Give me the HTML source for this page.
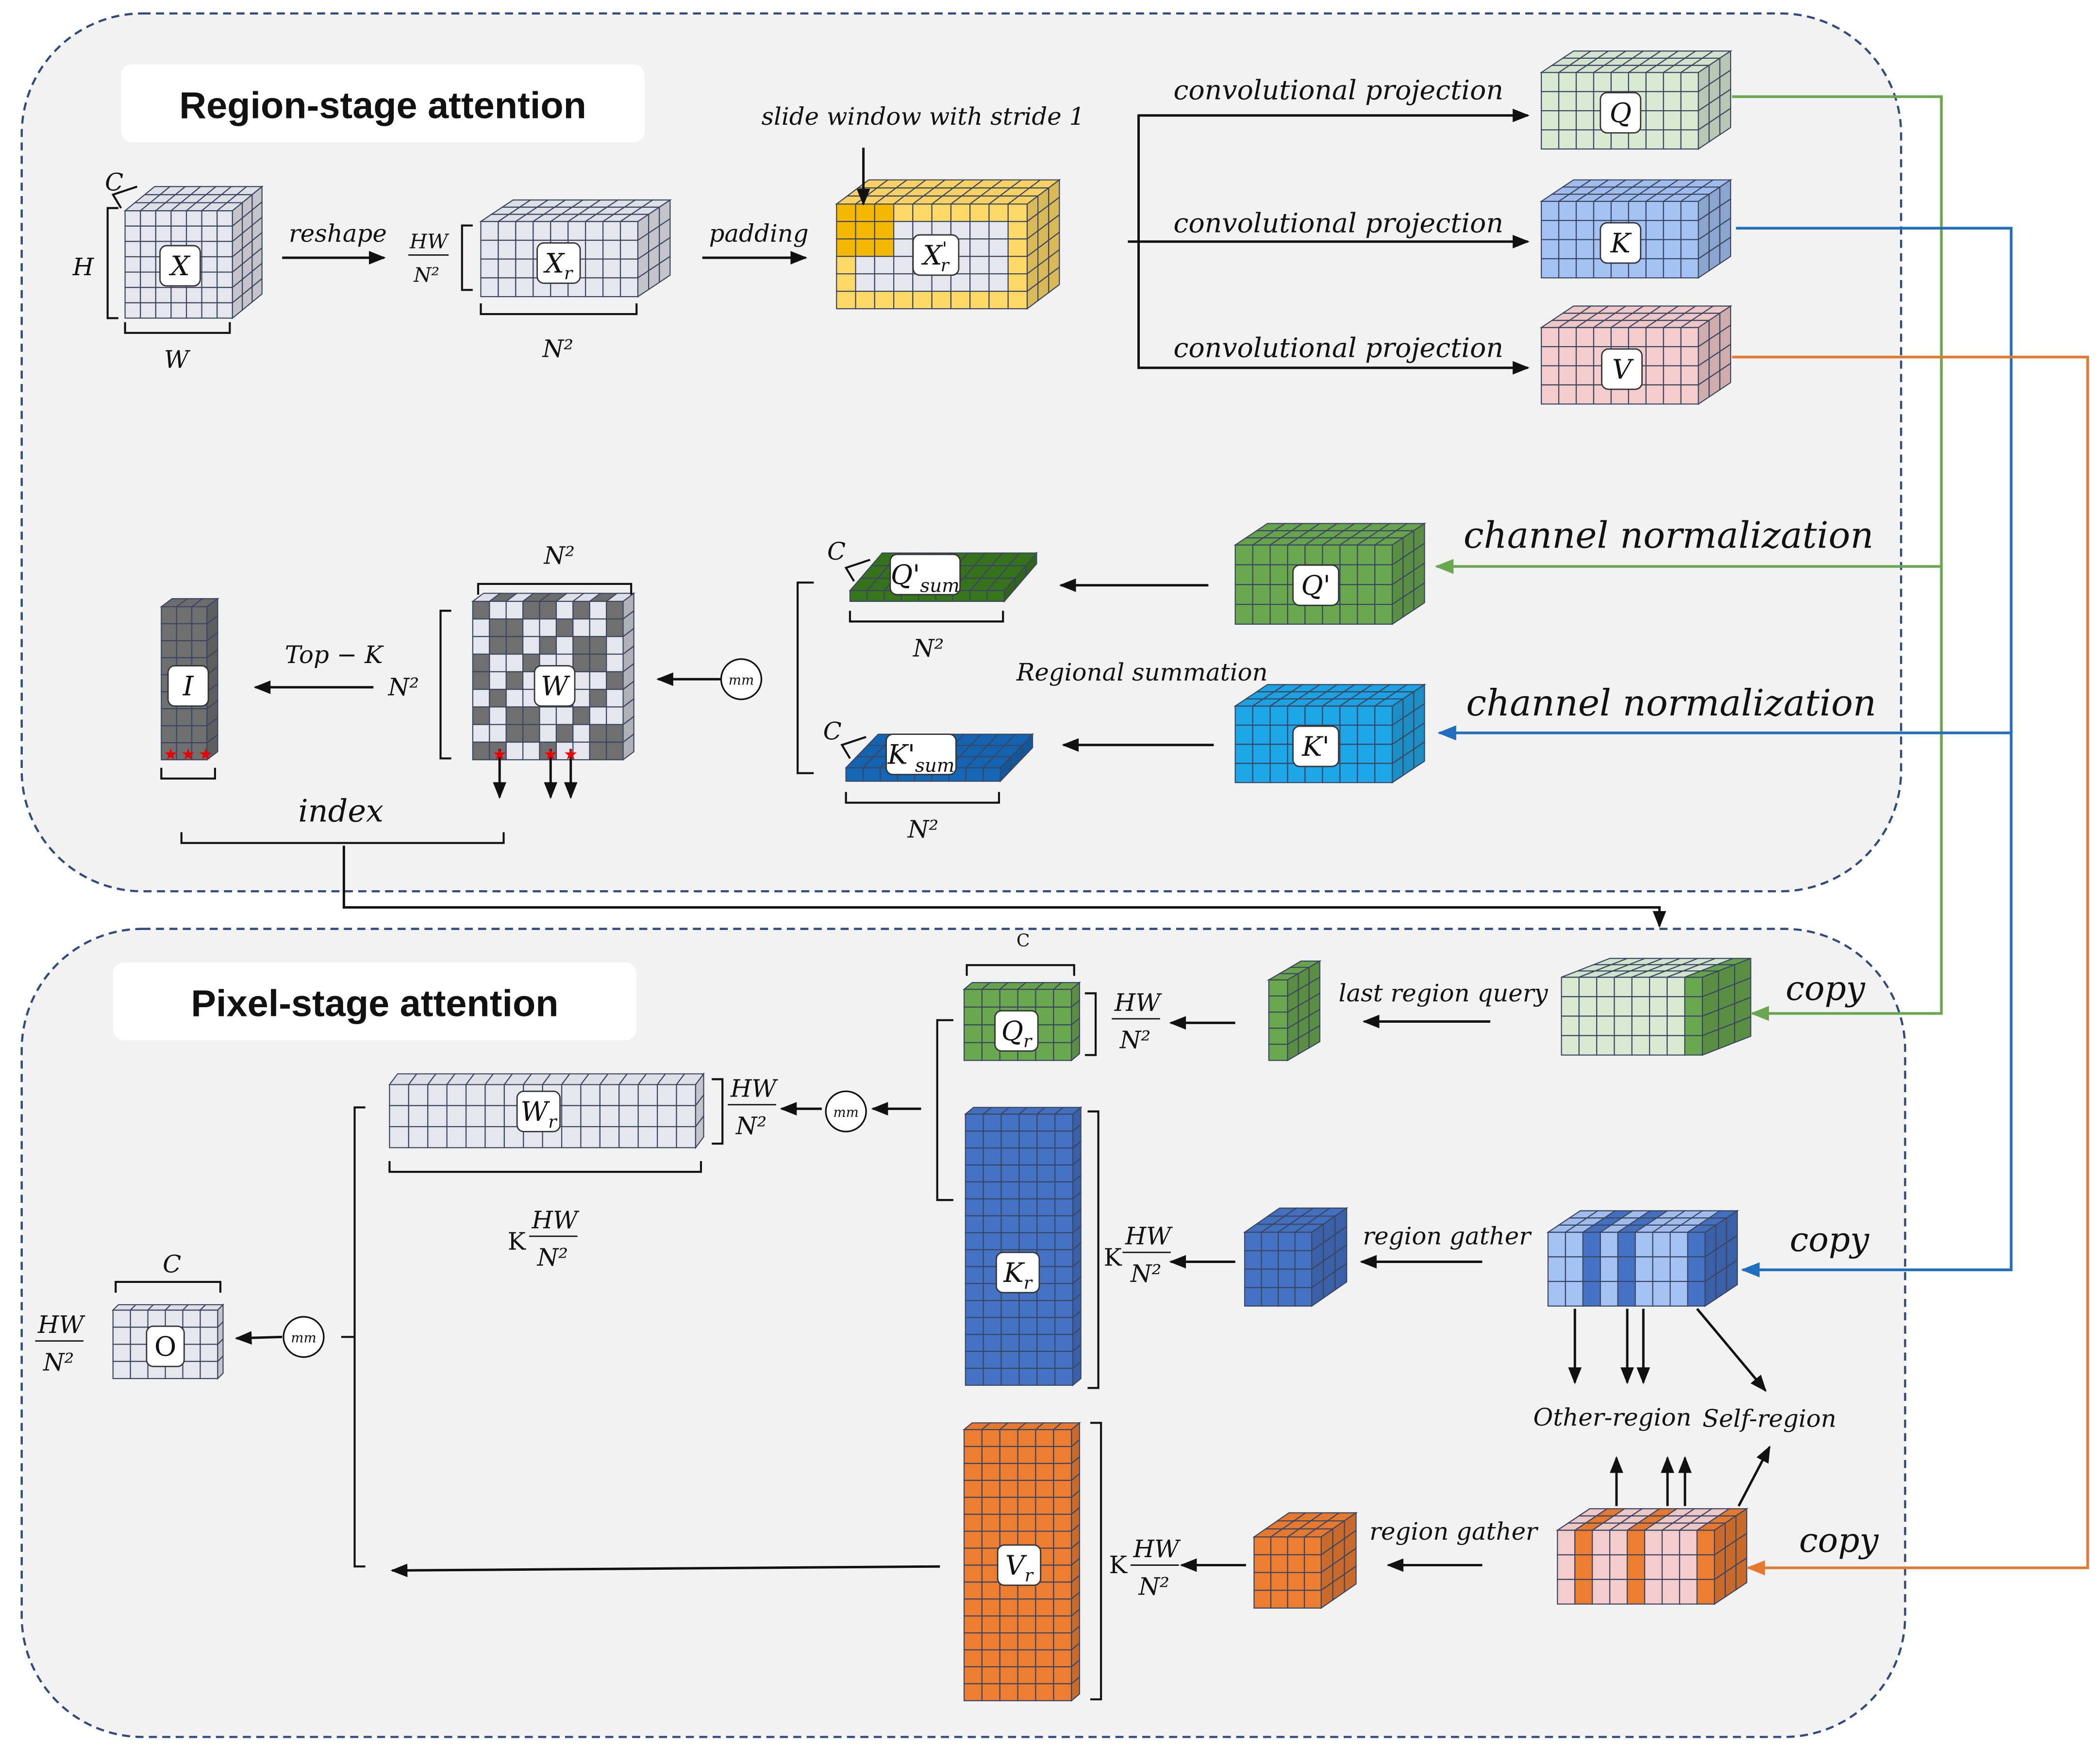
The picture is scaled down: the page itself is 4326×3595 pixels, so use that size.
<!DOCTYPE html>
<html><head><meta charset="utf-8"><style>
html,body{margin:0;padding:0;background:#fff}
svg{display:block}
text{font-family:"DejaVu Serif","Liberation Serif",serif;font-style:italic;fill:#111}
.t{font-family:"Liberation Sans",sans-serif;font-style:normal;font-weight:bold}
.lb{fill:#fff;stroke:#333;stroke-width:1}
</style></head><body>
<svg id="s" width="4326" height="3595" viewBox="0 0 1564 1300" xmlns="http://www.w3.org/2000/svg">
<defs>
<marker id="a" viewBox="0 0 10 10" refX="9" refY="5" markerWidth="7" markerHeight="7" orient="auto-start-reverse"><path d="M0,1 L10,5 L0,9 z" fill="#111"/></marker>
<marker id="ag" viewBox="0 0 10 10" refX="9" refY="5" markerWidth="7" markerHeight="7" orient="auto"><path d="M0,1 L10,5 L0,9 z" fill="#6aa84f"/></marker>
<marker id="ab" viewBox="0 0 10 10" refX="9" refY="5" markerWidth="7" markerHeight="7" orient="auto"><path d="M0,1 L10,5 L0,9 z" fill="#1f6fc0"/></marker>
<marker id="ao" viewBox="0 0 10 10" refX="9" refY="5" markerWidth="7" markerHeight="7" orient="auto"><path d="M0,1 L10,5 L0,9 z" fill="#e8782e"/></marker>
</defs>
<rect x="16" y="10" width="1400" height="654" rx="90" fill="#f2f2f2" stroke="#2f4a7f" stroke-width="1.6" stroke-dasharray="6,4"/>
<rect x="16" y="692" width="1403" height="602" rx="90" fill="#f2f2f2" stroke="#2f4a7f" stroke-width="1.6" stroke-dasharray="6,4"/>
<rect x="90" y="48" width="390" height="58" rx="8" fill="#fff"/>
<text x="285" y="88" class="t" font-size="28" text-anchor="middle">Region-stage attention</text>
<rect x="84" y="717" width="390" height="58" rx="8" fill="#fff"/>
<text x="279" y="757" class="t" font-size="28" text-anchor="middle">Pixel-stage attention</text>
<g id="cubes"></g>
<g fill="none" stroke-width="2">
<polyline points="1290,72 1446,72 1446,755 1305,755" stroke="#6aa84f" marker-end="url(#ag)"/>
<line x1="1446" y1="422" x2="1070" y2="422" stroke="#6aa84f" marker-end="url(#ag)"/>
<polyline points="1293,170 1498,170 1498,946 1298,946" stroke="#1f6fc0" marker-end="url(#ab)"/>
<line x1="1498" y1="546" x2="1072" y2="546" stroke="#1f6fc0" marker-end="url(#ab)"/>
<polyline points="1290,266 1555,266 1555,1168 1302,1168" stroke="#e8782e" marker-end="url(#ao)"/>
</g>
<g fill="none" stroke="#111" stroke-width="1.8">
<line x1="210" y1="192" x2="286" y2="192" marker-end="url(#a)"/>
<line x1="523" y1="192" x2="600" y2="192" marker-end="url(#a)"/>
<line x1="643" y1="110" x2="643" y2="152" marker-end="url(#a)"/>
<polyline points="1138,86 848,86 848,274 1138,274" marker-end="url(#a)"/>
<line x1="848" y1="86" x2="1138" y2="86" marker-end="url(#a)"/>
<line x1="840" y1="180" x2="1138" y2="180" marker-end="url(#a)"/>
<line x1="900" y1="436" x2="790" y2="436" marker-end="url(#a)"/>
<line x1="904" y1="555" x2="792" y2="555" marker-end="url(#a)"/>
<line x1="537" y1="506" x2="490" y2="506" marker-end="url(#a)"/>
<line x1="278" y1="512" x2="190" y2="512" marker-end="url(#a)"/>
<line x1="372" y1="558" x2="372" y2="594" marker-end="url(#a)"/>
<line x1="410" y1="558" x2="410" y2="594" marker-end="url(#a)"/>
<line x1="425" y1="558" x2="425" y2="594" marker-end="url(#a)"/>
<polyline points="256,630 256,676 1236,676 1236,690" marker-end="url(#a)"/>
<line x1="1110" y1="761" x2="1016" y2="761" marker-end="url(#a)"/>
<line x1="920" y1="762" x2="872" y2="762" marker-end="url(#a)"/>
<line x1="686" y1="826" x2="650" y2="826" marker-end="url(#a)"/>
<line x1="612" y1="826" x2="582" y2="826" marker-end="url(#a)"/>
<line x1="1104" y1="940" x2="1014" y2="940" marker-end="url(#a)"/>
<line x1="920" y1="940" x2="872" y2="940" marker-end="url(#a)"/>
<line x1="1104" y1="1166" x2="1034" y2="1166" marker-end="url(#a)"/>
<line x1="928" y1="1166" x2="880" y2="1166" marker-end="url(#a)"/>
<line x1="700" y1="1167" x2="292" y2="1170" marker-end="url(#a)"/>
<line x1="210" y1="996" x2="176" y2="997" marker-end="url(#a)"/>
<line x1="1173" y1="975" x2="1173" y2="1030" marker-end="url(#a)"/>
<line x1="1212" y1="975" x2="1212" y2="1030" marker-end="url(#a)"/>
<line x1="1224" y1="975" x2="1224" y2="1030" marker-end="url(#a)"/>
<line x1="1264" y1="975" x2="1315" y2="1036" marker-end="url(#a)"/>
<line x1="1204" y1="1122" x2="1204" y2="1086" marker-end="url(#a)"/>
<line x1="1242" y1="1122" x2="1242" y2="1086" marker-end="url(#a)"/>
<line x1="1255" y1="1122" x2="1255" y2="1086" marker-end="url(#a)"/>
<line x1="1295" y1="1122" x2="1318" y2="1078" marker-end="url(#a)"/>
</g>
<g fill="none" stroke="#111" stroke-width="1.5">
<path d="M88,155 h-8 v82 h8"/><path d="M93,240 v8 h78 v-8"/><path d="M90,155 l-6,-10 l18,-6"/>
<path d="M352,168 h-8 v48 h8"/><path d="M358,226 v8 h116 v-8"/>
<path d="M356,443 v-8 h114 v8"/><path d="M336,455 h-8 v110 h8"/><path d="M120,572 v8 h40 v-8"/>
<path d="M135,620 v8 h240 v-8"/>
<path d="M606,434 h-12 v142 h12"/>
<path d="M633,455 v8 h114 v-8"/><path d="M630,590 v8 h114 v-8"/>
<path d="M636,433 l-6,-10 l18,-6"/><path d="M633,565 l-6,-10 l18,-6"/>
<path d="M720,727 v-8 h80 v8"/><path d="M808,740 h8 v46 h-8"/>
<path d="M710,760 h-12 v134 h12"/>
<path d="M530,804 h8 v48 h-8"/><path d="M290,865 v8 h232 v-8"/>
<path d="M810,828 h8 v206 h-8"/><path d="M812,1060 h8 v206 h-8"/>
<path d="M272,825 h-8 v342 h8"/><path d="M264,996 h-10"/>
<path d="M86,963 v-8 h78 v8"/>
</g>
<g fill="none" stroke="#111" stroke-width="1.2">
<circle cx="552" cy="506" r="15" fill="#fff"/><circle cx="630" cy="828" r="15" fill="#fff"/><circle cx="226" cy="996" r="15" fill="#fff"/>
</g>
<text x="552" y="510" font-size="10" text-anchor="middle">mm</text>
<text x="630" y="832" font-size="10" text-anchor="middle">mm</text>
<text x="226" y="1000" font-size="10" text-anchor="middle">mm</text>
<g id="labels"></g>
<g font-size="18">
<text x="78" y="142">C</text><text x="54" y="205">H</text><text x="122" y="274">W</text>
<text x="215" y="180">reshape</text><text x="528" y="180">padding</text>
<text x="305" y="185" font-size="15">HW</text><line x1="304" y1="190" x2="334" y2="190" stroke="#111"/><text x="308" y="210" font-size="15">N²</text>
<text x="404" y="266">N²</text>
<text x="567" y="93">slide window with stride 1</text>
<text x="874" y="74" font-size="20">convolutional projection</text>
<text x="874" y="173" font-size="20">convolutional projection</text>
<text x="874" y="266" font-size="20">convolutional projection</text>
<text x="1090" y="408" font-size="27">channel normalization</text>
<text x="1092" y="533" font-size="27">channel normalization</text>
<text x="757" y="507">Regional summation</text>
<text x="405" y="420">N²</text><text x="289" y="518">N²</text>
<text x="212" y="494">Top − K</text>
<text x="680" y="489">N²</text><text x="676" y="624">N²</text>
<text x="616" y="417">C</text><text x="613" y="551">C</text>
<text x="222" y="612" font-size="23">index</text>
<text x="757" y="705" font-size="13" style="font-style:normal">C</text>
<text x="830" y="753">HW</text><line x1="828" y1="759" x2="864" y2="759" stroke="#111"/><text x="834" y="781">N²</text>
<text x="997" y="746">last region query</text>
<text x="1330" y="745" font-size="25">copy</text>
<text x="544" y="817">HW</text><line x1="542" y1="823" x2="578" y2="823" stroke="#111"/><text x="548" y="845">N²</text>
<text x="378" y="931" style="font-style:normal">K</text><text x="396" y="915">HW</text><line x1="394" y1="921" x2="430" y2="921" stroke="#111"/><text x="400" y="943">N²</text>
<text x="822" y="943" style="font-style:normal">K</text><text x="838" y="927">HW</text><line x1="836" y1="933" x2="872" y2="933" stroke="#111"/><text x="842" y="955">N²</text>
<text x="826" y="1172" style="font-style:normal">K</text><text x="844" y="1160">HW</text><line x1="842" y1="1166" x2="878" y2="1166" stroke="#111"/><text x="848" y="1188">N²</text>
<text x="1015" y="927">region  gather</text><text x="1020" y="1147">region  gather</text>
<text x="1333" y="932" font-size="25">copy</text><text x="1340" y="1156" font-size="25">copy</text>
<text x="1142" y="1062">Other-region</text><text x="1268" y="1063">Self-region</text>
<text x="121" y="948">C</text>
<text x="28" y="993">HW</text><line x1="26" y1="999" x2="62" y2="999" stroke="#111"/><text x="32" y="1021">N²</text>
</g>
</svg>
<script>
var NS="http://www.w3.org/2000/svg",G=document.getElementById("cubes"),L=document.getElementById("labels");
function el(p,n,a){var e=document.createElementNS(NS,n);for(var k in a)e.setAttribute(k,a[k]);p.appendChild(e);return e;}
function sh(c,f){var r=parseInt(c.substr(1,2),16),g=parseInt(c.substr(3,2),16),b=parseInt(c.substr(5,2),16);return "rgb("+Math.round(r*f)+","+Math.round(g*f)+","+Math.round(b*f)+")";}
function cube(x,y,w,h,c,r,dx,dy,d,col,opt){opt=opt||{};var st=opt.stroke||"#3a4660",sw=0.8;
 var cw=w/c,rh=h/r;
 for(var i=0;i<c;i++)for(var j=0;j<r;j++){var f=opt.cell?opt.cell(i,j):col;el(G,"rect",{x:x+i*cw,y:y+j*rh,width:cw,height:rh,fill:f,stroke:st,"stroke-width":sw});}
 var ddx=dx/d,ddy=dy/d;
 for(var i=0;i<c;i++)for(var k=0;k<d;k++){var f=opt.cell?opt.cell(i,-1):col;var x0=x+i*cw+k*ddx,y0=y-k*ddy;
  el(G,"polygon",{points:[x0,y0,x0+ddx,y0-ddy,x0+cw+ddx,y0-ddy,x0+cw,y0].join(","),fill:sh(f,0.97),stroke:st,"stroke-width":sw});}
 for(var j=0;j<r;j++)for(var k=0;k<d;k++){var f=opt.side||col;var x0=x+w+k*ddx,y0=y+j*rh-k*ddy;
  el(G,"polygon",{points:[x0,y0,x0+ddx,y0-ddy,x0+ddx,y0-ddy+rh,x0,y0+rh].join(","),fill:sh(f,0.85),stroke:st,"stroke-width":sw});}
}
function lab(cx,cy,t,w){w=w||30;el(L,"rect",{x:cx-w/2,y:cy-15,width:w,height:30,rx:5,class:"lb"});var e=el(L,"text",{x:cx,y:cy+7,"font-size":20,"text-anchor":"middle"});e.innerHTML=t;}
var gr="#e6e7ee";
cube(93,157,80,80,7,7,22,18,3,gr);
cube(358,165,117,56,9,4,24,16,3,gr);
cube(623,152,142,78,10,6,24,18,3,"#ffd966",{cell:function(i,j){if(i<3&&j>=0&&j<3)return "#f5b800";if(j<0||i==0||i==9||j==0||j==5)return "#ffd966";return "#e6e7ee";}});
cube(1148,54,117,57,9,4,24,16,3,"#d9ead3");
cube(1148,150,117,57,9,4,24,16,3,"#a4c2f4");
cube(1148,244,117,57,9,4,24,16,3,"#f4cccc");
cube(920,406,117,59,9,4,24,16,3,"#6aa84f");
cube(920,526,117,57,9,4,24,16,3,"#1ea7e8");
cube(633,440,115,8,9,1,24,28,3,"#38761d");
cube(630,572,115,10,9,1,24,25,3,"#1566b5");
cube(352,448,112,118,9,9,8,6,1,"#e6e7ee",{cell:function(i,j){return ((i*3+j*5)%4==0||(i+j)%3==0)?"#6f6f6f":"#e6e7ee";},side:"#cfd0d6"});
cube(120,452,34,114,3,9,8,6,1,"#6f6f6f");
cube(718,737,80,53,6,4,6,5,1,"#6aa84f");
cube(945,730,14,60,1,5,24,14,3,"#6aa84f");
cube(1163,728,105,58,8,4,36,14,3,"#d9ead3",{cell:function(i,j){return i==7?"#6aa84f":"#d9ead3";},side:"#6aa84f"});
cube(290,808,228,47,16,3,6,8,1,gr);
cube(719,830,80,202,6,16,6,5,1,"#4472c4");
cube(927,918,50,55,4,4,26,18,3,"#4472c4");
cube(1153,918,117,55,9,3,24,16,3,"#a4c2f4",{cell:function(i,j){return (i==2||i==4||i==8)?"#4472c4":"#a4c2f4";},side:"#4472c4"});
cube(718,1065,80,202,6,16,6,5,1,"#ed7d31");
cube(934,1145,50,53,4,4,26,18,3,"#ed7d31");
cube(1160,1140,117,55,9,3,24,16,3,"#f4cccc",{cell:function(i,j){return (i==1||i==4||i==8)?"#ed7d31":"#f4cccc";},side:"#ed7d31"});
cube(84,976,78,51,6,4,4,4,1,gr);
lab(134,198,"X");lab(416,196,"X<tspan font-size='13' dy='5'>r</tspan>",32);
lab(697,190,"X<tspan font-size='14' dy='-7' style='font-style:normal'>'</tspan><tspan font-size='13' dy='12' dx='-5'>r</tspan>",34);
lab(1207,84,"Q");lab(1207,181,"K");lab(1208,275,"V");
lab(980,436,"Q<tspan style='font-style:normal'>'</tspan>",34);lab(980,556,"K<tspan style='font-style:normal'>'</tspan>",34);
lab(689,428,"Q<tspan style='font-style:normal'>'</tspan><tspan font-size='14' dy='6'>sum</tspan>",52);lab(686,562,"K<tspan style='font-style:normal'>'</tspan><tspan font-size='14' dy='6'>sum</tspan>",52);
lab(413,511,"W");lab(140,511,"I");lab(757,768,"Q<tspan font-size='13' dy='5'>r</tspan>",32);
lab(401,828,"W<tspan font-size='13' dy='5'>r</tspan>",32);lab(758,948,"K<tspan font-size='13' dy='5'>r</tspan>",32);lab(759,1166,"V<tspan font-size='13' dy='5'>r</tspan>",32);
lab(123,1003,"<tspan style='font-style:normal'>O</tspan>",28);
[[372,561],[410,561],[425,561],[127,561],[140,561],[153,561]].forEach(function(p){var e=el(L,"text",{x:p[0],y:p[1]+5,"font-size":12,"text-anchor":"middle",style:"font-style:normal;fill:#e00"});e.textContent="★";});
</script>
</body></html>
